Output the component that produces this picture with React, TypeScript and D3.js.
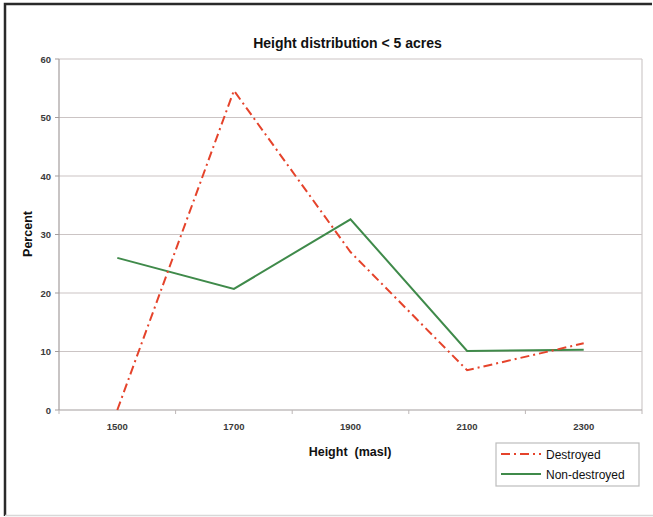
import { useEffect, useRef } from "react";
import * as d3 from "d3";

const heights = ["1500", "1700", "1900", "2100", "2300"];
const destroyed = [0, 54.6, 27, 6.8, 11.4];
const nonDestroyed = [26.0, 20.7, 32.6, 10.1, 10.3];
const yTicks = [0, 10, 20, 30, 40, 50, 60];

const W = 653, H = 517;
const plot = { left: 59, right: 642, top: 59, bottom: 410 };
const font = "'Liberation Sans', Arial, sans-serif";
const red = "#e5432b";
const green = "#3f8a4a";

function App() {
    const ref = useRef<SVGSVGElement>(null);

    useEffect(() => {
        const svg = d3.select(ref.current);
        svg.selectAll("*").remove();

        // outer frame
        svg.append("rect").attr("x", 0).attr("y", 0).attr("width", W).attr("height", H).attr("fill", "#fff");
        svg.append("path")
            .attr("d", `M5,${H - 1} L5,4 L${W - 1},4`)
            .attr("fill", "none").attr("stroke", "#2a2a2a").attr("stroke-width", 2.5);
        svg.append("line")
            .attr("x1", 5).attr("x2", W).attr("y1", H - 1.5).attr("y2", H - 1.5)
            .attr("stroke", "#d8d8d8").attr("stroke-width", 1.5);

        const band = d3.scaleBand().domain(heights).range([plot.left, plot.right]);
        const x = d3.scalePoint().domain(heights).range([plot.left, plot.right]).padding(0.5);
        const y = d3.scaleLinear().domain([0, 60]).range([plot.bottom, plot.top]);

        // gridlines
        svg.append("g").selectAll("line").data(yTicks.filter(d => d > 0)).join("line")
            .attr("x1", plot.left).attr("x2", plot.right)
            .attr("y1", d => y(d)).attr("y2", d => y(d))
            .attr("stroke", "#cbc4c4").attr("stroke-width", 1.2);
        // right border
        svg.append("line")
            .attr("x1", plot.right).attr("x2", plot.right).attr("y1", plot.top).attr("y2", plot.bottom)
            .attr("stroke", "#cfcaca").attr("stroke-width", 1.2);

        // axes
        svg.append("line")
            .attr("x1", plot.left).attr("x2", plot.left).attr("y1", plot.top).attr("y2", plot.bottom)
            .attr("stroke", "#a39d9d").attr("stroke-width", 1.2);
        svg.append("line")
            .attr("x1", plot.left).attr("x2", plot.right).attr("y1", plot.bottom).attr("y2", plot.bottom)
            .attr("stroke", "#a39d9d").attr("stroke-width", 1.2);

        svg.append("g").selectAll("line").data(yTicks).join("line")
            .attr("x1", plot.left - 4).attr("x2", plot.left)
            .attr("y1", d => y(d)).attr("y2", d => y(d))
            .attr("stroke", "#a39d9d");
        svg.append("g").selectAll("text").data(yTicks).join("text")
            .attr("x", plot.left - 8).attr("y", d => y(d) + 3.5)
            .attr("text-anchor", "end")
            .style("font", `bold 9.5px ${font}`).attr("fill", "#3a3a3a")
            .text(d => d);

        const bounds = heights.map(h => band(h)! + band.bandwidth()).concat([plot.left]);
        svg.append("g").selectAll("line").data(bounds).join("line")
            .attr("x1", d => d).attr("x2", d => d)
            .attr("y1", plot.bottom).attr("y2", plot.bottom + 4)
            .attr("stroke", "#bdb7b7");
        svg.append("g").selectAll("text").data(heights).join("text")
            .attr("x", d => x(d)!).attr("y", plot.bottom + 20)
            .attr("text-anchor", "middle")
            .style("font", `bold 9.5px ${font}`).attr("fill", "#3a3a3a")
            .text(d => d);

        // titles
        svg.append("text")
            .attr("x", (plot.left + plot.right) / 2 - 3).attr("y", 48)
            .attr("text-anchor", "middle")
            .style("font", `bold 14px ${font}`).attr("fill", "#111")
            .text("Height distribution < 5 acres");
        svg.append("text")
            .attr("x", 350).attr("y", 456)
            .attr("text-anchor", "middle")
            .style("font", `bold 12.5px ${font}`).attr("fill", "#111")
            .style("white-space", "pre")
            .text("Height  (masl)");
        svg.append("text")
            .attr("transform", `translate(32, 234) rotate(-90)`)
            .attr("text-anchor", "middle")
            .style("font", `bold 12.5px ${font}`).attr("fill", "#111")
            .text("Percent");

        // lines
        const line = d3.line<number>()
            .x((d, i) => x(heights[i])!)
            .y(d => y(d));
        svg.append("path").datum(nonDestroyed)
            .attr("fill", "none").attr("stroke", green).attr("stroke-width", 2)
            .attr("d", line);
        svg.append("path").datum(destroyed)
            .attr("fill", "none").attr("stroke", red).attr("stroke-width", 2)
            .attr("stroke-dasharray", "9,4,2,4")
            .attr("d", line);

        // legend
        const lg = svg.append("g").attr("transform", "translate(496, 443)");
        lg.append("rect").attr("width", 143).attr("height", 43)
            .attr("fill", "#fff").attr("stroke", "#bdbdbd").attr("stroke-width", 1.2);
        const items = [
            { name: "Destroyed", color: red, dash: "9,4,2,4" },
            { name: "Non-destroyed", color: green, dash: null },
        ];
        items.forEach((it, i) => {
            const g = lg.append("g").attr("transform", `translate(0, ${11 + i * 20})`);
            g.append("line").attr("x1", 5).attr("x2", 45).attr("y1", 0).attr("y2", 0)
                .attr("stroke", it.color).attr("stroke-width", 2)
                .attr("stroke-dasharray", it.dash);
            g.append("text").attr("x", 50).attr("y", 4.5)
                .style("font", `12px ${font}`).attr("fill", "#111")
                .text(it.name);
        });
    });

    return (
        <svg ref={ref} width={W} height={H} style={{ position: "absolute", left: 0, top: 0 }}></svg>
    );
}

export default App;
